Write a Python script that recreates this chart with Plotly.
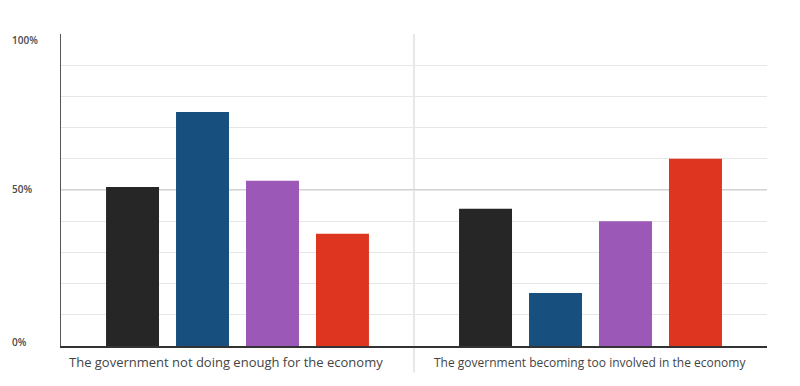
import plotly.graph_objects as go

categories = ["The government not doing enough for the economy",
              "The government becoming too involved in the economy"]
series_names = ["Series 1", "Series 2", "Series 3", "Series 4"]
series_values = [
    [51, 44],
    [75, 17],
    [53, 40],
    [36, 60],
]
colors = ["#262626", "#174f7f", "#9b58b6", "#de3521"]
tick_vals = [0, 50, 100]
tick_text = ["0%", "50%", "100%"]

fig = go.Figure()
for name, vals, c in zip(series_names, series_values, colors):
    fig.add_trace(go.Bar(x=categories, y=vals, name=name, marker_color=c,
                         marker_line_width=0, showlegend=False))

fig.update_layout(
    width=800, height=386,
    margin=dict(l=53, r=41, t=26, b=48),
    paper_bgcolor="white", plot_bgcolor="white",
    barmode="group", bargap=0.207, bargroupgap=0.243,
    font=dict(family="Open Sans", color="#333333"),
)
fig.update_xaxes(showgrid=False, showline=True, linecolor="#333333", linewidth=1.5,
                 ticks="", showticklabels=False)
fig.update_yaxes(range=[0, 100], dtick=10, showgrid=True, gridcolor="#e6e6e6", gridwidth=1,
                 showline=True, linecolor="#555555", linewidth=1, zeroline=False,
                 showticklabels=False)

# darker 50% line
fig.add_shape(type="line", xref="paper", yref="y", x0=0, x1=1, y0=50, y1=50,
              line=dict(color="#c4c4c4", width=1.5), layer="below")
# divider
fig.add_shape(type="line", xref="paper", yref="paper", x0=0.5, x1=0.5, y0=-0.085, y1=1.0,
              line=dict(color="#cfcfcf", width=1), layer="below")

# category labels
for i, cat in enumerate(categories):
    fig.add_annotation(x=cat, xref="x", y=0, yref="y", yanchor="top",
                       yshift=-5 if i == 0 else -6,
                       xshift=-12 if i == 0 else -1, text=cat, showarrow=False,
                       font=dict(size=13 if i == 0 else 12, color="#444444", family="Open Sans"))

for v, t in zip(tick_vals, tick_text):
    fig.add_annotation(x=-0.072, xref="paper", xanchor="left", y=v, yref="y",
                       text=t, showarrow=False,
                       yshift={0: 4, 50: 1, 100: -6}[v],
                       font=dict(size=10, color="#4a4a4a", family="Open Sans", weight=600))

fig.write_html("out.html")
